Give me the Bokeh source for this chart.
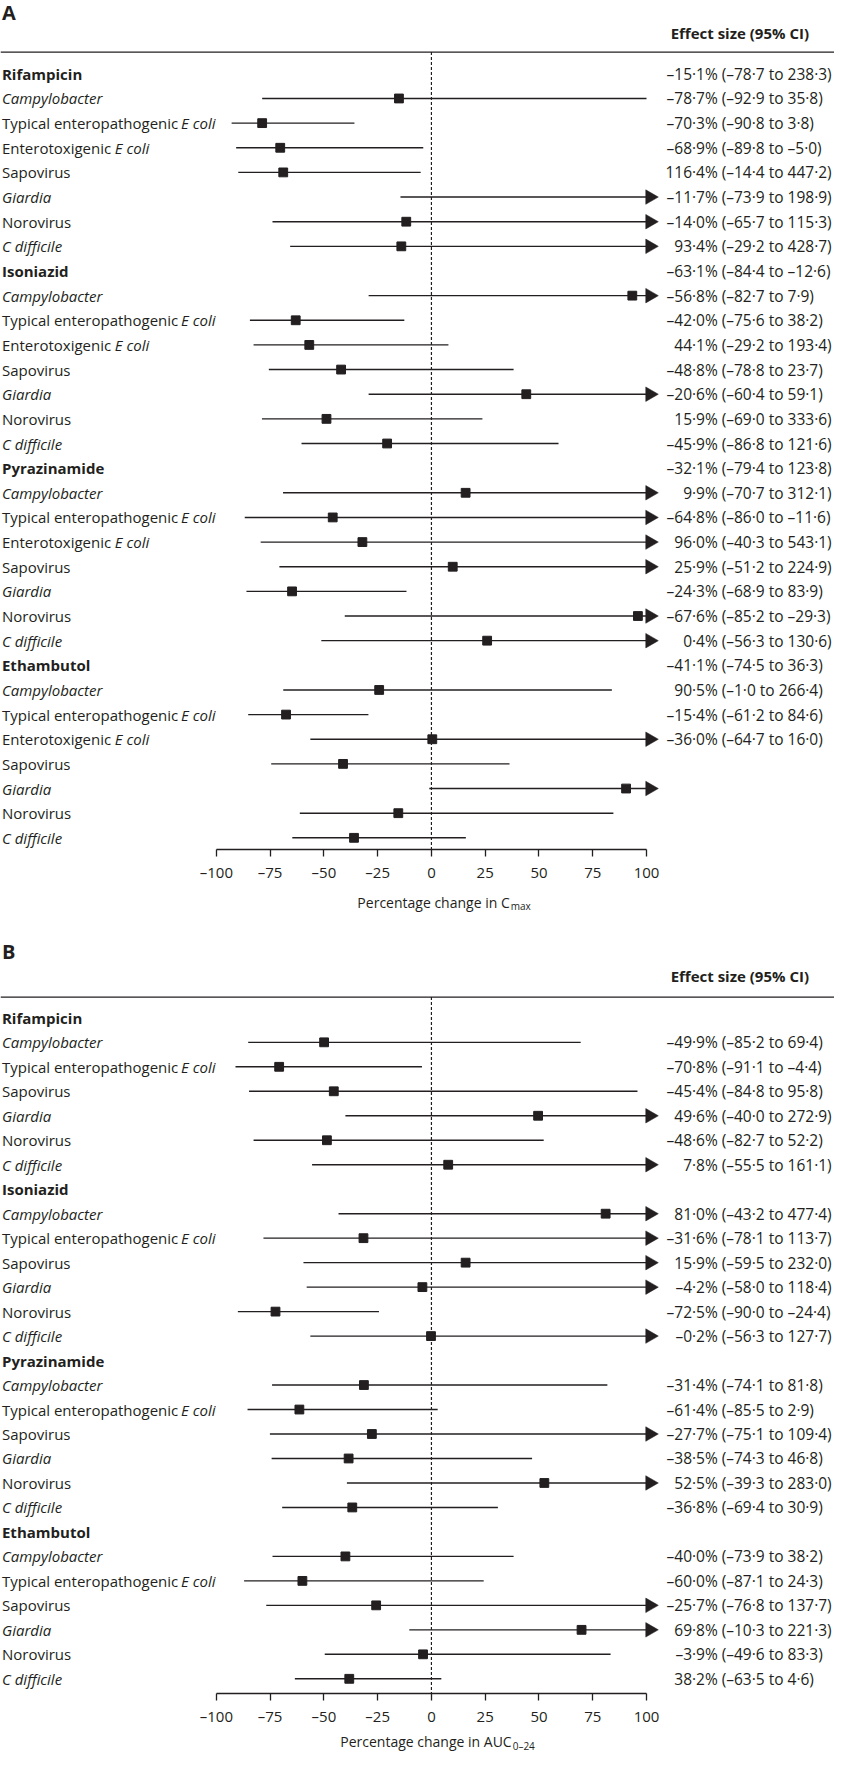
import math
from bokeh.plotting import figure
from bokeh.models import Range1d, LinearAxis, FixedTicker, Span
from bokeh.layouts import column
from bokeh.core.properties import value
from bokeh.embed import file_html
from bokeh.resources import INLINE

# ---------------- data ----------------
drugs = ["Rifampicin", "Isoniazid", "Pyrazinamide", "Ethambutol"]
pathogens_a = ["Campylobacter", "Typical enteropathogenic E coli", "Enterotoxigenic E coli",
               "Sapovirus", "Giardia", "Norovirus", "C difficile"]
pathogens_b = ["Campylobacter", "Typical enteropathogenic E coli", "Sapovirus",
               "Giardia", "Norovirus", "C difficile"]

# Panel A (Cmax): plotted estimate / lower / upper, in pathogen-row order
cmax_est = [-15.1, -78.7, -70.3, -68.9, 116.4, -11.7, -14.0,
            93.4, -63.1, -56.8, -42.0, 44.1, -48.8, -20.6,
            15.9, -45.9, -32.1, 9.9, -64.8, 96.0, 25.9,
            -24.3, -67.6, 0.4, -41.1, 90.5, -15.4, -36.0]
cmax_lo = [-78.7, -92.9, -90.8, -89.8, -14.4, -73.9, -65.7,
           -29.2, -84.4, -82.7, -75.6, -29.2, -78.8, -60.4,
           -69.0, -86.8, -79.4, -70.7, -86.0, -40.3, -51.2,
           -68.9, -85.2, -56.3, -74.5, -1.0, -61.2, -64.7]
cmax_hi = [100.0, -35.8, -3.8, -5.0, 447.2, 198.9, 115.3,
           428.7, -12.6, 7.9, 38.2, 193.4, 23.7, 59.1,
           333.6, 121.6, 123.8, 312.1, -11.6, 543.1, 224.9,
           83.9, -29.3, 130.6, 36.3, 266.4, 84.6, 16.0]
cmax_text = ["–15·1% (–78·7 to 238·3)", "–78·7% (–92·9 to 35·8)", "–70·3% (–90·8 to 3·8)",
             "–68·9% (–89·8 to –5·0)", "116·4% (–14·4 to 447·2)", "–11·7% (–73·9 to 198·9)",
             "–14·0% (–65·7 to 115·3)", "93·4% (–29·2 to 428·7)", "–63·1% (–84·4 to –12·6)",
             "–56·8% (–82·7 to 7·9)", "–42·0% (–75·6 to 38·2)", "44·1% (–29·2 to 193·4)",
             "–48·8% (–78·8 to 23·7)", "–20·6% (–60·4 to 59·1)", "15·9% (–69·0 to 333·6)",
             "–45·9% (–86·8 to 121·6)", "–32·1% (–79·4 to 123·8)", "9·9% (–70·7 to 312·1)",
             "–64·8% (–86·0 to –11·6)", "96·0% (–40·3 to 543·1)", "25·9% (–51·2 to 224·9)",
             "–24·3% (–68·9 to 83·9)", "–67·6% (–85·2 to –29·3)", "0·4% (–56·3 to 130·6)",
             "–41·1% (–74·5 to 36·3)", "90·5% (–1·0 to 266·4)", "–15·4% (–61·2 to 84·6)",
             "–36·0% (–64·7 to 16·0)"]

# Panel B (AUC0-24)
auc_est = [-49.9, -70.8, -45.4, 49.6, -48.6, 7.8,
           81.0, -31.6, 15.9, -4.2, -72.5, -0.2,
           -31.4, -61.4, -27.7, -38.5, 52.5, -36.8,
           -40.0, -60.0, -25.7, 69.8, -3.9, -38.2]
auc_lo = [-85.2, -91.1, -84.8, -40.0, -82.7, -55.5,
          -43.2, -78.1, -59.5, -58.0, -90.0, -56.3,
          -74.1, -85.5, -75.1, -74.3, -39.3, -69.4,
          -73.9, -87.1, -76.8, -10.3, -49.6, -63.5]
auc_hi = [69.4, -4.4, 95.8, 272.9, 52.2, 161.1,
          477.4, 113.7, 232.0, 118.4, -24.4, 127.7,
          81.8, 2.9, 109.4, 46.8, 283.0, 30.9,
          38.2, 24.3, 137.7, 221.3, 83.3, 4.6]
auc_text = ["–49·9% (–85·2 to 69·4)", "–70·8% (–91·1 to –4·4)", "–45·4% (–84·8 to 95·8)",
            "49·6% (–40·0 to 272·9)", "–48·6% (–82·7 to 52·2)", "7·8% (–55·5 to 161·1)",
            "81·0% (–43·2 to 477·4)", "–31·6% (–78·1 to 113·7)", "15·9% (–59·5 to 232·0)",
            "–4·2% (–58·0 to 118·4)", "–72·5% (–90·0 to –24·4)", "–0·2% (–56·3 to 127·7)",
            "–31·4% (–74·1 to 81·8)", "–61·4% (–85·5 to 2·9)", "–27·7% (–75·1 to 109·4)",
            "–38·5% (–74·3 to 46·8)", "52·5% (–39·3 to 283·0)", "–36·8% (–69·4 to 30·9)",
            "–40·0% (–73·9 to 38·2)", "–60·0% (–87·1 to 24·3)", "–25·7% (–76·8 to 137·7)",
            "69·8% (–10·3 to 221·3)", "–3·9% (–49·6 to 83·3)", "38·2% (–63·5 to 4·6)"]

ticks = [-100, -75, -50, -25, 0, 25, 50, 75, 100]
tick_labels = ["–100", "–75", "–50", "–25", "0", "25", "50", "75", "100"]
header_text = "Effect size (95% CI)"

# ---------------- layout helpers ----------------
INK = "#231f20"
FONT = "Open Sans"
FIG_W = 834
SX = 834 / 850.0
SY = 1752 / 1768.0
ZERO_REF = 439.2     # reference pixel column of 0 %
UNIT_REF = 2.192     # reference pixels per 1 %


def v_of(ref_px):
    return (ref_px - ZERO_REF) / UNIT_REF


X_START = v_of(0)
X_END = v_of(850)
X_LEFT = v_of(1.5)
ITALIC = {"Campylobacter", "Giardia", "C difficile"}
ITALIC_X_REF = {"Typical enteropathogenic E coli": 184.0, "Enterotoxigenic E coli": 116.5}


def base_fig(height, y_range, bottom):
    p = figure(width=FIG_W, height=height, output_backend="svg", toolbar_location=None,
               x_axis_location=None, y_axis_location=None,
               x_range=Range1d(X_START, X_END), y_range=y_range,
               min_border_left=0, min_border_right=0, min_border_top=0,
               min_border_bottom=bottom)
    p.outline_line_color = None
    p.grid.visible = False
    p.background_fill_color = "white"
    return p


def make_panel(letter, pathogens, est, lo, hi, texts, texts_all_rows, height, top_ref,
               row0_ref, step_ref, axis_ref, letter_ref, header_ref, rule_ref):
    def row_of(ref_y):
        return (ref_y - row0_ref) / step_ref

    frame_h = round(SY * (axis_ref - top_ref))
    bottom_y = row_of(top_ref + frame_h / SY)
    p = base_fig(height, Range1d(bottom_y, row_of(top_ref)), height - frame_h)

    # rows
    names, kinds = [], []
    for d in drugs:
        names.append(d); kinds.append("drug")
        for pth in pathogens:
            names.append(pth); kinds.append("path")
    rows = list(range(len(names)))
    prow = [r for r in rows if kinds[r] == "path"]
    drow = [r for r in rows if kinds[r] == "drug"]

    # row labels
    p.text(x=[X_LEFT] * len(drow), y=drow, text=[names[r] for r in drow],
           text_font=value(FONT), text_font_style="bold", text_font_size="15px",
           text_color=INK, text_align="left", text_baseline="middle")
    nx, ny, nt, ix, iy, it = [], [], [], [], [], []
    for r in prow:
        nm = names[r]
        if nm in ITALIC:
            ix.append(X_LEFT); iy.append(r); it.append(nm)
        elif nm.endswith("E coli"):
            nx.append(X_LEFT); ny.append(r); nt.append(nm[:-7])
            ix.append(v_of(ITALIC_X_REF[nm])); iy.append(r); it.append("E coli")
        else:
            nx.append(X_LEFT); ny.append(r); nt.append(nm)
    p.text(x=nx, y=ny, text=nt, text_font=value(FONT), text_font_size="15px",
           text_color=INK, text_align="left", text_baseline="middle")
    p.text(x=ix, y=iy, text=it, text_font=value(FONT), text_font_style="italic",
           text_font_size="15px", text_color=INK, text_align="left", text_baseline="middle")

    # letter, header, rule
    p.text(x=[X_LEFT], y=[row_of(letter_ref)], text=[letter], text_font=value(FONT),
           text_font_style="bold", text_font_size="20px", text_color=INK,
           text_align="left", text_baseline="middle")
    p.text(x=[v_of(683)], y=[row_of(header_ref)], text=[header_text], text_font=value(FONT),
           text_font_style="bold", text_font_size="15px", text_color=INK,
           text_align="left", text_baseline="middle")
    rule_y = row_of(rule_ref)
    p.add_layout(Span(location=rule_y, dimension="width", line_color=INK, line_width=1.3))

    # null line
    p.segment(x0=[0], y0=[rule_y], x1=[0], y1=[bottom_y], line_color=INK,
              line_width=1.2, line_dash="3 2")

    # CIs
    lo_c = [max(v, ticks[0]) for v in lo]
    hi_c = [min(v, ticks[-1]) for v in hi]
    p.segment(x0=lo_c, y0=prow, x1=hi_c, y1=prow, line_color=INK, line_width=1.4)
    arr_rows = [prow[k] for k in range(len(hi)) if hi[k] > ticks[-1]]
    p.scatter(x=[ticks[-1] + 1.6] * len(arr_rows), y=arr_rows, marker="triangle",
              angle=-math.pi / 2, size=14.5, fill_color=INK, line_color=INK, line_width=0.5)
    sq = [k for k in range(len(est)) if ticks[0] <= est[k] <= ticks[-1]]
    p.scatter(x=[est[k] for k in sq], y=[prow[k] for k in sq], marker="square", size=8.8,
              fill_color=INK, line_color=INK)

    # effect size text
    trows = rows[:len(texts)] if texts_all_rows else prow
    e_txt = [t.split(" (")[0] for t in texts]
    c_txt = ["(" + t.split(" (")[1] for t in texts]
    p.text(x=[v_of(731)] * len(texts), y=trows, text=e_txt, text_font=value(FONT),
           text_font_size="15.5px", text_color=INK, text_align="right", text_baseline="middle")
    p.text(x=[v_of(735)] * len(texts), y=trows, text=c_txt, text_font=value(FONT),
           text_font_size="15.5px", text_color=INK, text_align="left", text_baseline="middle")

    # axis
    ax = LinearAxis(ticker=FixedTicker(ticks=ticks), bounds=(ticks[0], ticks[-1]),
                    major_label_overrides={t: l for t, l in zip(ticks, tick_labels)},
                    axis_line_color=INK, axis_line_width=1.3,
                    major_tick_line_color=INK, major_tick_line_width=1.3,
                    major_tick_out=7, major_tick_in=0, minor_tick_out=0, minor_tick_in=0,
                    major_label_standoff=5, major_label_text_font=FONT,
                    major_label_text_font_size="15px", major_label_text_color=INK)
    p.add_layout(ax, "below")
    return p


def make_title_strip(height, text_y, main, sub, main_end_ref, x_range):
    s = base_fig(height, Range1d(height, 0), 0)
    s.x_range = x_range
    s.text(x=[v_of(main_end_ref)], y=[text_y], text=[main], text_font=value(FONT),
           text_font_size="14px", text_color=INK, text_align="right", text_baseline="middle")
    s.text(x=[v_of(main_end_ref + 1)], y=[text_y + 4], text=[sub], text_font=value(FONT),
           text_font_size="10px", text_color=INK, text_align="left", text_baseline="middle")
    return s


H_A = 885
H_A_T = 42
H_B = 801
H_B_T = 1752 - H_A - H_A_T - H_B
top_b_ref = (H_A + H_A_T) / SY

pa = make_panel("A", pathogens_a, cmax_est, cmax_lo, cmax_hi, cmax_text, True,
                H_A, 0.0, 74.0, 24.87, 856.7, 12.5, 33, 52)
ta = make_title_strip(H_A_T, SY * 910 - H_A, "Percentage change in C", "max", 519, pa.x_range)
pb = make_panel("B", pathogens_b, auc_est, auc_lo, auc_hi, auc_text, False,
                H_B, top_b_ref, 1027.0, 24.8, 1711.0, 960, 985, 1006)
tb = make_title_strip(H_B_T, SY * 1757 - (H_A + H_A_T + H_B), "Percentage change in AUC",
                      "0–24", 521, pb.x_range)

layout = column(pa, ta, pb, tb, spacing=0)
open("out.html", "w").write(file_html(layout, INLINE))
